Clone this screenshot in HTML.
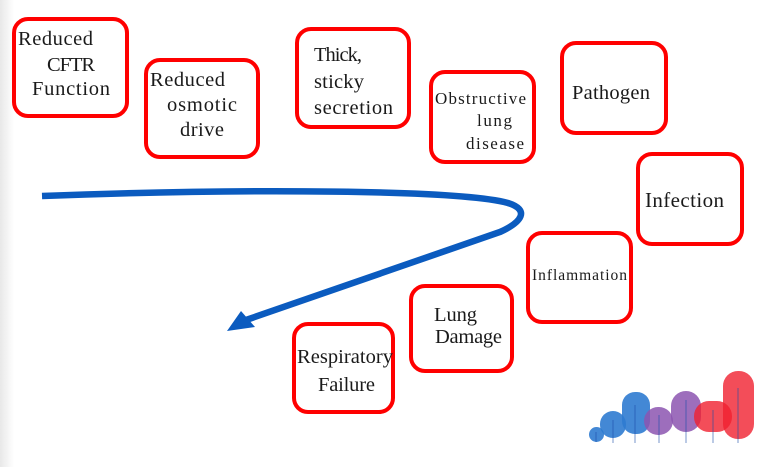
<!DOCTYPE html>
<html><head><style>
html,body{margin:0;padding:0;background:#fff;}
svg{display:block;}
text{font-family:"Liberation Serif",serif;fill:#1a1a1a;}
</style></head><body>
<svg width="769" height="467" viewBox="0 0 769 467" xmlns="http://www.w3.org/2000/svg">
<defs>
<linearGradient id="lg" x1="0" x2="1" y1="0" y2="0">
<stop offset="0" stop-color="#e8e8e8"/><stop offset="1" stop-color="#fff"/>
</linearGradient>
</defs>
<rect x="0" y="0" width="769" height="467" fill="#fff"/>
<rect x="0" y="0" width="14" height="467" fill="url(#lg)"/>
<g fill="#fff" stroke="#f00" stroke-width="4">
<rect x="14" y="19" width="113" height="97" rx="14"/>
<rect x="146" y="60" width="112" height="97" rx="14"/>
<rect x="297" y="29" width="112" height="98" rx="14"/>
<rect x="431" y="72" width="103" height="90" rx="14"/>
<rect x="562" y="43" width="104" height="90" rx="14"/>
<rect x="638" y="154" width="104" height="90" rx="14"/>
<rect x="528" y="233" width="103" height="89" rx="14"/>
<rect x="411" y="286" width="101" height="85" rx="14"/>
<rect x="294" y="324" width="99" height="88" rx="14"/>
</g>
<g font-size="20.5">
<text x="18" y="45" textLength="75">Reduced</text><text x="47" y="71" textLength="48">CFTR</text><text x="32" y="95" textLength="78">Function</text>
<text x="150" y="86" textLength="75">Reduced</text><text x="167" y="111" textLength="70">osmotic</text><text x="180" y="136" textLength="44">drive</text>
<text x="314" y="61" textLength="48">Thick,</text><text x="314" y="88" textLength="50">sticky</text><text x="314" y="114" textLength="79">secretion</text>
<text x="572" y="99" textLength="78">Pathogen</text>
<text x="645" y="207" font-size="21" textLength="79">Infection</text>
<text x="434" y="321" textLength="43">Lung</text><text x="435" y="343" textLength="67">Damage</text>
<text x="297" y="363" textLength="96">Respiratory</text><text x="318" y="391" textLength="57">Failure</text>
</g>
<g font-size="17">
<text x="435" y="104" textLength="91">Obstructive</text><text x="477" y="126" textLength="35">lung</text><text x="466" y="149" textLength="58">disease</text>
</g>
<text x="532" y="280" font-size="15.5" textLength="95">Inflammation</text>
<path d="M42,196 C250,188 460,190 508,203 C530,210 522,222 500,232 L246,320" fill="none" stroke="#0b5bbf" stroke-width="6.5"/>
<polygon points="227,331 241,311 255,327" fill="#0b5bbf"/>
<g>
<rect x="589" y="427" width="15" height="15" rx="7.5" fill="#2f7bd0" opacity="0.9"/>
<rect x="600" y="411" width="26" height="27" rx="13" fill="#2f7bd0" opacity="0.9"/>
<rect x="622" y="392" width="28" height="42" rx="13" fill="#2f7bd0" opacity="0.9"/>
<rect x="644" y="407" width="29" height="28" rx="14" fill="#8c55b0" opacity="0.85"/>
<rect x="671" y="391" width="30" height="41" rx="15" fill="#8c55b0" opacity="0.85"/>
<rect x="694" y="401" width="38" height="31" rx="15" fill="#f02030" opacity="0.8"/>
<rect x="723" y="371" width="31" height="68" rx="15" fill="#f02030" opacity="0.8"/>
<path d="M596,442V432 M613,443V420 M635,443V405 M659,443V415 M686,443V400 M713,443V410 M738,443V388" stroke="#1d4fa8" stroke-width="1" opacity="0.6" fill="none"/>
</g>
</svg>
</body></html>
